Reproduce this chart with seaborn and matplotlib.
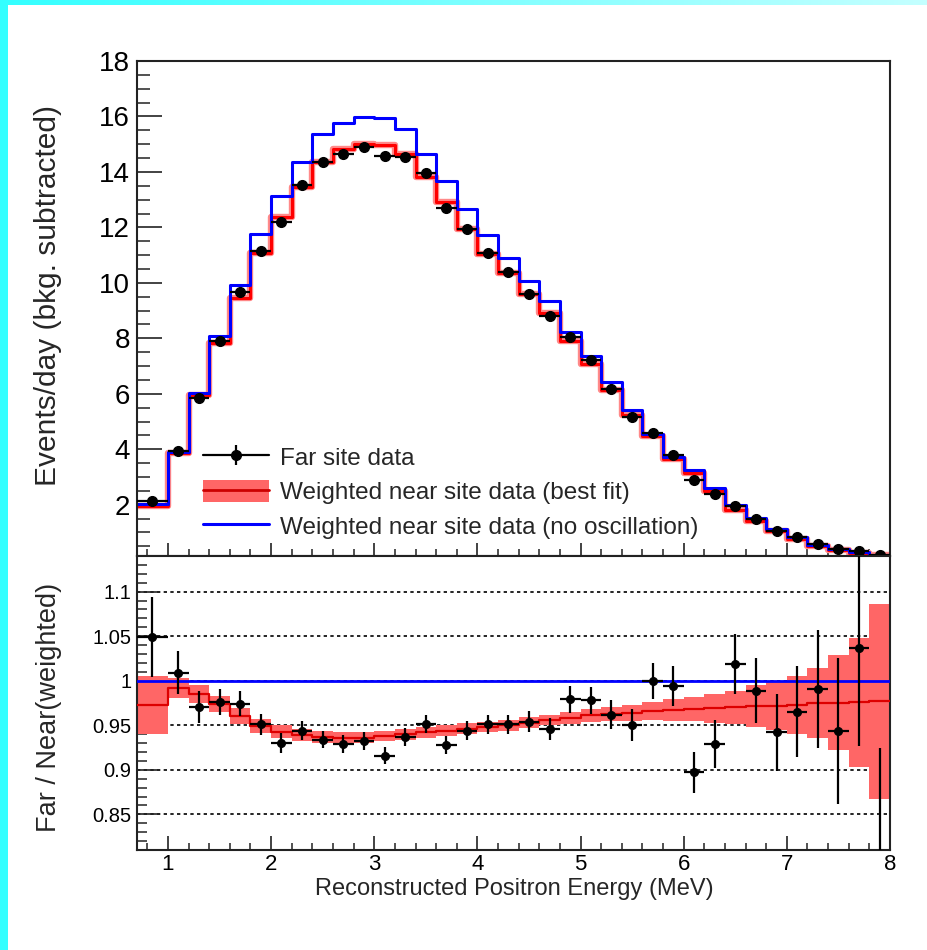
import numpy as np
import pandas as pd
import matplotlib
matplotlib.use("Agg")
import matplotlib.pyplot as plt
import seaborn as sns
from matplotlib.patches import Patch, Rectangle
from matplotlib.lines import Line2D
from matplotlib.colors import LinearSegmentedColormap
from matplotlib.ticker import MultipleLocator, FixedLocator, FixedFormatter

# ---------------- data ----------------
bin_edges = [0.7, 1.0, 1.2, 1.4, 1.6, 1.8, 2.0, 2.2, 2.4, 2.6, 2.8, 3.0, 3.2, 3.4,
             3.6, 3.8, 4.0, 4.2, 4.4, 4.6, 4.8, 5.0, 5.2, 5.4, 5.6, 5.8, 6.0, 6.2,
             6.4, 6.6, 6.8, 7.0, 7.2, 7.4, 7.6, 7.8, 8.0]

far_site = [2.12, 3.95, 5.84, 7.89, 9.66, 11.15, 12.21, 13.53, 14.34, 14.64, 14.91,
            14.59, 14.55, 13.96, 12.69, 11.95, 11.09, 10.38, 9.60, 8.82, 8.04, 7.23,
            6.18, 5.18, 4.58, 3.78, 2.90, 2.39, 1.96, 1.48, 1.06, 0.82, 0.59, 0.41,
            0.34, 0.17]
far_site_err = [0.07, 0.07, 0.08, 0.09, 0.10, 0.10, 0.11, 0.11, 0.11, 0.12, 0.12,
                0.12, 0.12, 0.11, 0.11, 0.11, 0.10, 0.10, 0.10, 0.09, 0.09, 0.08,
                0.08, 0.07, 0.07, 0.06, 0.06, 0.05, 0.05, 0.05, 0.04, 0.04, 0.03,
                0.03, 0.03, 0.02]

near_best_fit = [1.95, 3.87, 5.95, 7.83, 9.47, 11.09, 12.39, 13.47, 14.36, 14.82, 15.00,
                 14.97, 14.64, 13.83, 12.90, 11.95, 11.05, 10.34, 9.58, 8.91, 7.89, 7.07,
                 6.14, 5.24, 4.46, 3.66, 3.14, 2.48, 1.82, 1.43, 1.06, 0.77, 0.52, 0.38,
                 0.26, 0.17]

near_no_osc = [2.04, 3.91, 6.04, 8.09, 9.93, 11.75, 13.13, 14.34, 15.36, 15.75, 15.99,
               15.94, 15.54, 14.66, 13.66, 12.65, 11.71, 10.91, 10.07, 9.35, 8.21, 7.37,
               6.42, 5.42, 4.56, 3.72, 3.24, 2.60, 2.00, 1.52, 1.12, 0.84, 0.56, 0.41,
               0.28, 0.20]

ratio_data = [1.049, 1.009, 0.970, 0.976, 0.974, 0.951, 0.930, 0.944, 0.934, 0.929,
              0.932, 0.916, 0.937, 0.951, 0.928, 0.944, 0.951, 0.951, 0.954, 0.946,
              0.979, 0.978, 0.962, 0.950, 1.000, 0.994, 0.897, 0.929, 1.019, 0.989,
              0.942, 0.965, 0.991, 0.944, 1.037, 0.795]
ratio_err = [0.045, 0.024, 0.018, 0.015, 0.014, 0.012, 0.011, 0.011, 0.010, 0.010,
             0.010, 0.010, 0.010, 0.010, 0.010, 0.011, 0.011, 0.011, 0.012, 0.012,
             0.015, 0.015, 0.016, 0.018, 0.020, 0.022, 0.023, 0.027, 0.034, 0.037,
             0.043, 0.051, 0.066, 0.082, 0.110, 0.130]

ratio_fit = [0.973, 0.992, 0.985, 0.974, 0.960, 0.949, 0.943, 0.939, 0.937, 0.936,
             0.936, 0.938, 0.940, 0.942, 0.944, 0.946, 0.948, 0.950, 0.953, 0.9557,
             0.958, 0.961, 0.963, 0.964, 0.966, 0.967, 0.968, 0.969, 0.970, 0.9717,
             0.972, 0.973, 0.9745, 0.9754, 0.9758, 0.977]
ratio_fit_err = [0.0325, 0.011, 0.010, 0.009, 0.009, 0.008, 0.007, 0.007, 0.007, 0.007,
                 0.006, 0.006, 0.006, 0.006, 0.006, 0.006, 0.006, 0.006, 0.006, 0.0056,
                 0.0065, 0.007, 0.008, 0.009, 0.0098, 0.012, 0.0135, 0.016, 0.019, 0.0233,
                 0.0277, 0.0326, 0.0393, 0.0534, 0.0724, 0.1095]

ratio_ticks = [0.85, 0.9, 0.95, 1.0, 1.05, 1.1]
ratio_tick_labels = ["0.85", "0.9", "0.95", "1", "1.05", "1.1"]
count_ticks = [2, 4, 6, 8, 10, 12, 14, 16, 18]
x_ticks = [1, 2, 3, 4, 5, 6, 7, 8]

# ---------------- derived tables ----------------
edges = np.array(bin_edges)
centers = 0.5 * (edges[:-1] + edges[1:])
half_w = 0.5 * np.diff(edges)

def step_frame(vals):
    return pd.DataFrame({"E": edges, "v": list(vals) + [vals[-1]]})

fit_arr = np.array(ratio_fit)
fit_err = np.array(ratio_fit_err)
band_lo = list(fit_arr - fit_err) + [fit_arr[-1] - fit_err[-1]]
band_hi = list(fit_arr + fit_err) + [fit_arr[-1] + fit_err[-1]]

# ---------------- style ----------------
sns.set_theme(style="ticks")
plt.rcParams["font.family"] = ["Liberation Sans", "DejaVu Sans"]
plt.rcParams["axes.edgecolor"] = "#222222"
plt.rcParams["axes.linewidth"] = 1.5

RED_BAND = "#ff6666"
RED_LINE = "#dd0000"
BLUE = "#0000ff"

fig = plt.figure(figsize=(9.27, 9.5), dpi=100)
fig.patch.set_facecolor("white")

# decorative cyan frame
fig.add_artist(Rectangle((0, 0), 8 / 927, 1, transform=fig.transFigure,
                         color="#33ffff", lw=0, zorder=-5))
gax = fig.add_axes([0, 1 - 5 / 950, 1, 5 / 950])
gax.imshow(np.linspace(0, 1, 256)[None, :], aspect="auto",
           cmap=LinearSegmentedColormap.from_list("cy", ["#33ffff", "#c4ffff"]))
gax.axis("off")

ax1 = fig.add_axes([137 / 927, 1 - 556 / 950, 753 / 927, 495 / 950])
ax2 = fig.add_axes([137 / 927, 1 - 850 / 950, 753 / 927, 294 / 950])

# ---------------- top panel ----------------
sns.lineplot(data=step_frame(near_best_fit), x="E", y="v", drawstyle="steps-post",
             estimator=None, sort=False, color="#ff8a8a", lw=4.6, ax=ax1, legend=False)
sns.lineplot(data=step_frame(near_best_fit), x="E", y="v", drawstyle="steps-post",
             estimator=None, sort=False, color="#ff0000", lw=2.2, ax=ax1, legend=False)
sns.lineplot(data=step_frame(near_no_osc), x="E", y="v", drawstyle="steps-post",
             estimator=None, sort=False, color=BLUE, lw=2.2, ax=ax1, legend=False)
ax1.errorbar(centers, far_site, xerr=half_w, yerr=far_site_err, fmt="o",
             color="black", ms=7, elinewidth=1.6, capsize=0, zorder=5)

ax1.set_xlim(0.7, 8.0)
ax1.set_ylim(0.15, 18)
ax1.set_xlabel("")
ax1.set_ylabel("Events/day (bkg. subtracted)", fontsize=21.5)
ax1.yaxis.set_label_coords(-0.10, 0.527)
ax1.yaxis.set_major_locator(FixedLocator(count_ticks))
ax1.yaxis.set_minor_locator(MultipleLocator(0.5))
ax1.xaxis.set_major_locator(FixedLocator(x_ticks))
ax1.xaxis.set_minor_locator(MultipleLocator(0.2))
ax1.tick_params(axis="y", which="major", direction="in", length=18, width=1.2,
                labelsize=20, pad=5, left=True, right=False, colors="#222222",
                labelcolor="black")
ax1.tick_params(axis="y", which="minor", direction="in", length=9, width=1.1,
                left=True, right=False, colors="#222222")
ax1.tick_params(axis="x", which="major", direction="in", length=9.5, width=1.2,
                bottom=True, top=False, labelbottom=False, colors="#222222")
ax1.tick_params(axis="x", which="minor", direction="in", length=5, width=1.1,
                bottom=True, top=False, colors="#222222")

far_handle = (Line2D([], [], color="black", lw=1.6, marker="o", ms=7),
              Line2D([], [], color="black", lw=0, marker="|", ms=15, mew=1.6))
fit_handle = (Patch(facecolor=RED_BAND, edgecolor="none"),
              Line2D([], [], color="#cc0000", lw=2))
noosc_handle = Line2D([], [], color=BLUE, lw=2.2)
labels = ["Far site data", "Weighted near site data (best fit)",
          "Weighted near site data (no oscillation)"]
ax1.legend([far_handle, fit_handle, noosc_handle], labels, loc="lower left",
           bbox_to_anchor=(0.088, 0.035), frameon=False, fontsize=17.5,
           handlelength=2.7, handleheight=1.05, handletextpad=0.45,
           labelspacing=0.4, borderpad=0, borderaxespad=0)

# ---------------- bottom panel ----------------
ax2.set_axisbelow(True)
ax2.grid(axis="y", which="major", color="black", ls=(0, (2, 2)), lw=1.2)
ax2.grid(axis="x", visible=False)
ax2.fill_between(edges, band_lo, band_hi, step="post", color=RED_BAND, lw=0, zorder=2)
sns.lineplot(data=step_frame(ratio_fit), x="E", y="v", drawstyle="steps-post",
             estimator=None, sort=False, color=RED_LINE, lw=1.6, ax=ax2, legend=False,
             zorder=3)
ax2.axhline(1.0, color=BLUE, lw=2.0, zorder=4)
ax2.errorbar(centers, ratio_data, xerr=half_w, yerr=ratio_err, fmt="o", color="black",
             ms=5.5, elinewidth=1.6, capsize=0, zorder=5)

ax2.set_xlim(0.7, 8.0)
ax2.set_ylim(0.81, 1.14)
ax2.yaxis.set_major_locator(FixedLocator(ratio_ticks))
ax2.yaxis.set_major_formatter(FixedFormatter(ratio_tick_labels))
ax2.yaxis.set_minor_locator(MultipleLocator(0.01))
ax2.xaxis.set_major_locator(FixedLocator(x_ticks))
ax2.xaxis.set_minor_locator(MultipleLocator(0.2))
ax2.tick_params(axis="y", which="major", direction="in", length=16.5, width=1.2,
                labelsize=14.5, pad=4, left=True, right=False, colors="#222222",
                labelcolor="black")
ax2.tick_params(axis="y", which="minor", direction="in", length=7.5, width=1.1,
                left=True, right=False, colors="#222222")
ax2.tick_params(axis="x", which="major", direction="in", length=10, width=1.2,
                labelsize=16, pad=3, bottom=True, top=False, colors="#222222",
                labelcolor="black")
ax2.tick_params(axis="x", which="minor", direction="in", length=5, width=1.1,
                bottom=True, top=False, colors="#222222")
ax2.set_ylabel("Far / Near(weighted)", fontsize=19.5)
ax2.yaxis.set_label_coords(-0.10, 0.486)
ax2.set_xlabel("Reconstructed Positron Energy (MeV)", fontsize=17)
ax2.xaxis.set_label_coords(0.5007, -0.095)

fig.savefig("out.png", dpi=100, facecolor="white")
